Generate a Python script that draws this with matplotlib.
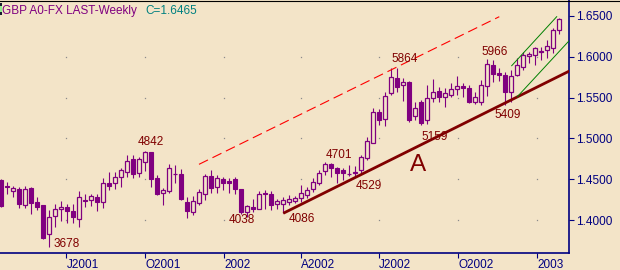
import matplotlib
matplotlib.use("Agg")
import matplotlib.pyplot as plt
import numpy as np
import pandas as pd
from matplotlib.patches import Rectangle
from matplotlib.lines import Line2D

# ---------------- data ----------------
start_date = "2001-04-16"
opens = [1.4493, 1.4425, 1.4358, 1.4383, 1.4187, 1.4391, 1.4227, 1.4187, 1.3829, 1.4053,
         1.4135, 1.4163, 1.4114, 1.4012, 1.4248, 1.4245, 1.4289, 1.4227, 1.4452, 1.4452,
         1.4526, 1.4594, 1.4746, 1.4574, 1.4716, 1.4831, 1.4513, 1.4330, 1.4362, 1.4566,
         1.4566, 1.4220, 1.4105, 1.4215, 1.4318, 1.4542, 1.4411, 1.4501, 1.4480, 1.4501,
         1.4379, 1.4105, 1.4159, 1.4135, 1.4337, 1.4318, 1.4196, 1.4199, 1.4227, 1.4240,
         1.4269, 1.4309, 1.4379, 1.4460, 1.4603, 1.4684, 1.4636, 1.4615, 1.4560, 1.4574,
         1.4615, 1.4758, 1.4948, 1.5324, 1.5238, 1.5552, 1.5735, 1.5653, 1.5694, 1.5275,
         1.5449, 1.5226, 1.5491, 1.5584, 1.5503, 1.5531, 1.5601, 1.5645, 1.5613, 1.5442,
         1.5449, 1.5641, 1.5898, 1.5800, 1.5776, 1.5564, 1.5776, 1.5870, 1.6011, 1.6020,
         1.6060, 1.6081, 1.6102, 1.6325]
highs = [1.4505, 1.4468, 1.4423, 1.4411, 1.4419, 1.4411, 1.4289, 1.4187, 1.4126, 1.4199,
         1.4240, 1.4199, 1.4199, 1.4358, 1.4318, 1.4322, 1.4322, 1.4513, 1.4594, 1.4594,
         1.4636, 1.4798, 1.4798, 1.4777, 1.4842, 1.4838, 1.4554, 1.4391, 1.4688, 1.4676,
         1.4623, 1.4285, 1.4301, 1.4379, 1.4566, 1.4615, 1.4554, 1.4526, 1.4513, 1.4526,
         1.4379, 1.4187, 1.4257, 1.4362, 1.4370, 1.4362, 1.4257, 1.4289, 1.4309, 1.4297,
         1.4432, 1.4411, 1.4513, 1.4615, 1.4716, 1.4701, 1.4655, 1.4636, 1.4676, 1.4664,
         1.4798, 1.5014, 1.5369, 1.5360, 1.5568, 1.5864, 1.5857, 1.5735, 1.5702, 1.5449,
         1.5470, 1.5653, 1.5723, 1.5633, 1.5613, 1.5674, 1.5763, 1.5674, 1.5653, 1.5572,
         1.5715, 1.5966, 1.5959, 1.5857, 1.5816, 1.5837, 1.5980, 1.6060, 1.6060, 1.6121,
         1.6121, 1.6203, 1.6346, 1.6476]
lows = [1.4163, 1.4322, 1.4289, 1.4147, 1.4151, 1.4074, 1.4126, 1.3772, 1.3678, 1.3915,
        1.3995, 1.3964, 1.3971, 1.3922, 1.4159, 1.4175, 1.4118, 1.4147, 1.4370, 1.4379,
        1.4403, 1.4533, 1.4513, 1.4526, 1.4606, 1.4403, 1.4309, 1.4187, 1.4337, 1.4452,
        1.4254, 1.4032, 1.4065, 1.4187, 1.4248, 1.4330, 1.4330, 1.4370, 1.4337, 1.4318,
        1.4077, 1.4038, 1.4102, 1.4135, 1.4135, 1.4126, 1.4135, 1.4086, 1.4187, 1.4208,
        1.4227, 1.4269, 1.4350, 1.4432, 1.4554, 1.4533, 1.4460, 1.4493, 1.4542, 1.4529,
        1.4574, 1.4737, 1.4941, 1.5165, 1.5152, 1.5531, 1.5572, 1.5462, 1.5205, 1.5226,
        1.5159, 1.5177, 1.5449, 1.5449, 1.5388, 1.5510, 1.5531, 1.5510, 1.5430, 1.5421,
        1.5415, 1.5523, 1.5694, 1.5702, 1.5409, 1.5449, 1.5767, 1.5837, 1.5919, 1.5898,
        1.5959, 1.5980, 1.6041, 1.6273]
closes = [1.4175, 1.4407, 1.4395, 1.4196, 1.4383, 1.4215, 1.4166, 1.3788, 1.4037, 1.4135,
          1.4163, 1.4110, 1.4044, 1.4281, 1.4232, 1.4297, 1.4227, 1.4452, 1.4423, 1.4533,
          1.4615, 1.4725, 1.4562, 1.4746, 1.4831, 1.4505, 1.4322, 1.4370, 1.4643, 1.4568,
          1.4260, 1.4114, 1.4236, 1.4342, 1.4542, 1.4391, 1.4513, 1.4460, 1.4460, 1.4379,
          1.4105, 1.4175, 1.4142, 1.4318, 1.4318, 1.4187, 1.4236, 1.4248, 1.4260, 1.4269,
          1.4330, 1.4370, 1.4472, 1.4574, 1.4684, 1.4636, 1.4574, 1.4574, 1.4566, 1.4594,
          1.4770, 1.4969, 1.5320, 1.5226, 1.5519, 1.5755, 1.5633, 1.5686, 1.5226, 1.5369,
          1.5193, 1.5491, 1.5572, 1.5503, 1.5552, 1.5601, 1.5641, 1.5613, 1.5449, 1.5510,
          1.5653, 1.5906, 1.5784, 1.5776, 1.5564, 1.5767, 1.5898, 1.6020, 1.6032, 1.6102,
          1.6073, 1.6130, 1.6325, 1.6465]

tick_dates = ["2001-07-01", "2001-10-01", "2002-01-01", "2002-04-01",
              "2002-07-01", "2002-10-01", "2003-01-01"]
tick_labels = ["J2001", "O2001", "2002", "A2002", "J2002", "O2002", "2003"]
ytick_values = [1.40, 1.45, 1.50, 1.55, 1.60, 1.65]
grid_levels = [1.40, 1.45, 1.50, 1.55, 1.60]

# trend lines (week index, price)
upper_dash_w = [32.95, 83.0]
upper_dash_p = [1.4684, 1.6488]
trend_a_w = [47.0, 95.5]
trend_a_p = [1.4086, 1.5854]
green_up_w = [85.07, 92.57]
green_up_p = [1.5889, 1.6488]
green_lo_w = [86.0, 95.5]
green_lo_p = [1.5510, 1.6262]

label_texts = ["3678", "4842", "4038", "4086", "4701", "4529", "5864", "5159", "5966", "5409", "A"]
label_weeks = [8.78, 22.78, 37.95, 47.9, 54.12, 59.07, 65.07, 70.07, 80.07, 82.17, 68.12]
label_prices = [1.3670, 1.4920, 1.3964, 1.3983, 1.4758, 1.4383, 1.5931, 1.4981, 1.6020, 1.5246, 1.4603]

title_text = "GBP A0-FX LAST-Weekly"

# ---------------- style ----------------
plt.rcParams["font.family"] = ["Liberation Sans", "DejaVu Sans"]
BG = "#F3E4C8"
PURPLE = "#800080"
NAVY = "#000080"
MAROON = "#800000"

W, H = 620, 270
fig = plt.figure(figsize=(W / 100, H / 100), dpi=100, facecolor=BG)
ax = fig.add_axes([0, 17 / H, 569 / W, 253 / H])
ax.set_facecolor(BG)

o = np.array(opens); h = np.array(highs); l = np.array(lows); c = np.array(closes)
x = np.arange(len(o))
down = c < o

ax.vlines(x, l, h, color=PURPLE, linewidth=0.8, zorder=2)
bot = np.minimum(o, c)
hgt = np.abs(c - o)
ax.bar(x[down], hgt[down], bottom=bot[down], width=0.68, color=PURPLE,
       edgecolor=PURPLE, linewidth=0.8, zorder=3)
ax.bar(x[~down], hgt[~down], bottom=bot[~down], width=0.68, color=BG,
       edgecolor=PURPLE, linewidth=0.9, zorder=3)

# trend lines
ax.plot(upper_dash_w, upper_dash_p, color="#FF0000", linewidth=0.8,
        dashes=(9, 4.5), zorder=4)
ax.plot(trend_a_w, trend_a_p, color=MAROON, linewidth=2.0, zorder=4,
        solid_capstyle="butt")
ax.plot(green_up_w, green_up_p, color="#008000", linewidth=0.7, zorder=4)
ax.plot(green_lo_w, green_lo_p, color="#008000", linewidth=0.7, zorder=4)

# ticks
start = pd.Timestamp(start_date)
tick_pos = [(pd.Timestamp(d) - start).days / 7 for d in tick_dates]

# dot grid
gx, gy = np.meshgrid(tick_pos, grid_levels)
ax.plot(gx.ravel(), gy.ravel(), linestyle="none", marker="s", markersize=0.9,
        markeredgewidth=0, color="#8C8C8C", zorder=1)

ax.set_xlim(-0.217, 94.62)
ax.set_ylim(1.36005, 1.6692)

ax.set_xticks(tick_pos)
ax.set_xticklabels(tick_labels, ha="left")
ax.yaxis.tick_right()
ax.set_yticks(ytick_values)
ax.set_yticklabels([f"{v:.4f}" for v in ytick_values])
ax.tick_params(axis="x", direction="out", length=3.6, width=0.8, colors=NAVY,
               labelsize=8.5, pad=0.5)
ax.tick_params(axis="y", direction="out", length=3.6, width=0.8, colors=NAVY,
               labelsize=8.5, pad=1.2)

for s in ["left", "top"]:
    ax.spines[s].set_visible(False)
for s in ["right", "bottom"]:
    ax.spines[s].set_color(NAVY)
    ax.spines[s].set_linewidth(1.2)

# labels
for t, w, p in zip(label_texts, label_weeks, label_prices):
    ax.text(w, p, t, color=MAROON, fontsize=17.5 if t == "A" else 8.5,
            ha="left", va="baseline", zorder=5)

# header
fig.text(1.7 / W, 1 - 14 / H, title_text, color=PURPLE, fontsize=8.5,
         ha="left", va="baseline")
fig.text(145.7 / W, 1 - 14 / H, f"C={closes[-1]:.4f}", color="#008080",
         fontsize=8.5, ha="left", va="baseline")

# small marker and top border
fig.patches.append(Rectangle((0, 1 - 15 / H), 2.3 / W, 12.3 / H, transform=fig.transFigure,
                             facecolor="#1A1A33", edgecolor="none", zorder=10))
fig.patches.append(Rectangle((0, 1 - 11.7 / H), 2.3 / W, 5.7 / H, transform=fig.transFigure,
                             facecolor="#90EE90", edgecolor="none", zorder=11))
fig.lines.append(Line2D([0, 1], [1 - 0.5 / H, 1 - 0.5 / H], transform=fig.transFigure,
                        color="black", linewidth=0.8))

fig.savefig("out.png", dpi=100, facecolor=BG)
